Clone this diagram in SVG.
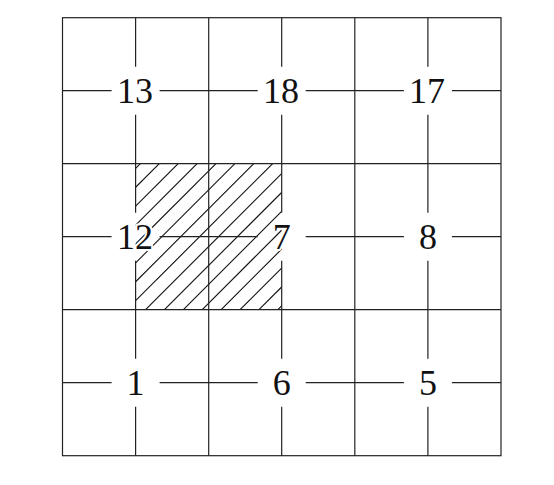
<svg xmlns="http://www.w3.org/2000/svg" width="554" height="485" viewBox="0 0 554 485">
  <style>
    .grid { stroke: #222; stroke-width: 1.2; fill: none; }
    .hatch { stroke: #111; stroke-width: 1.1; fill: none; }
    .lbl { font-family: "Liberation Serif", "DejaVu Serif", serif; font-size: 36px; fill: #111; text-anchor: middle; stroke: #fff; stroke-width: 4; paint-order: stroke; stroke-linejoin: round; }
  </style>
  <defs>
    <clipPath id="hclip">
      <rect x="135.6" y="163.7" width="146.1" height="146"/>
    </clipPath>
  </defs>
  <rect width="554" height="485" fill="#fff"/>
  <g id="hatch" class="hatch" clip-path="url(#hclip)">
    <line x1="154" y1="150" x2="-16" y2="320"/>
    <line x1="172.9" y1="150" x2="2.9" y2="320"/>
    <line x1="191.8" y1="150" x2="21.8" y2="320"/>
    <line x1="210.7" y1="150" x2="40.7" y2="320"/>
    <line x1="229.6" y1="150" x2="59.6" y2="320"/>
    <line x1="248.5" y1="150" x2="78.5" y2="320"/>
    <line x1="267.4" y1="150" x2="97.4" y2="320"/>
    <line x1="286.3" y1="150" x2="116.3" y2="320"/>
    <line x1="305.2" y1="150" x2="135.2" y2="320"/>
    <line x1="324.1" y1="150" x2="154.1" y2="320"/>
    <line x1="343" y1="150" x2="173" y2="320"/>
    <line x1="361.9" y1="150" x2="191.9" y2="320"/>
    <line x1="380.8" y1="150" x2="210.8" y2="320"/>
    <line x1="399.7" y1="150" x2="229.7" y2="320"/>
    <line x1="418.6" y1="150" x2="248.6" y2="320"/>
    <line x1="437.5" y1="150" x2="267.5" y2="320"/>
  </g>
  <g id="connectors" class="grid">
    <rect x="62.5" y="17.7" width="438.5" height="438"/>
    <line x1="208.7" y1="17.7" x2="208.7" y2="455.7"/>
    <line x1="354.8" y1="17.7" x2="354.8" y2="455.7"/>
    <line x1="62.5" y1="163.7" x2="501" y2="163.7"/>
    <line x1="62.5" y1="309.7" x2="501" y2="309.7"/>
    <path d="M135.6 17.7V66.7M135.6 114.7V212.7M135.6 260.7V358.7M135.6 406.7V455.7"/>
    <path d="M281.7 17.7V66.7M281.7 114.7V212.7M281.7 260.7V358.7M281.7 406.7V455.7"/>
    <path d="M427.9 17.7V66.7M427.9 114.7V212.7M427.9 260.7V358.7M427.9 406.7V455.7"/>
    <path d="M62.5 90.7H111.6M159.6 90.7H257.7M305.7 90.7H403.9M451.9 90.7H501"/>
    <path d="M62.5 236.7H111.6M159.6 236.7H257.7M305.7 236.7H403.9M451.9 236.7H501"/>
    <path d="M62.5 382.7H111.6M159.6 382.7H257.7M305.7 382.7H403.9M451.9 382.7H501"/>
  </g>
  <g id="n13"><text class="lbl" x="135" y="103">13</text></g>
  <g id="n18"><text class="lbl" x="281" y="103">18</text></g>
  <g id="n17"><text class="lbl" x="427" y="103">17</text></g>
  <g id="n12"><text class="lbl" x="135" y="248.8">12</text></g>
  <g id="n7"><text class="lbl" x="281.7" y="248.8">7</text></g>
  <g id="n8"><text class="lbl" x="427.9" y="248.8">8</text></g>
  <g id="n1"><text class="lbl" x="135.6" y="394.8">1</text></g>
  <g id="n6"><text class="lbl" x="281.7" y="394.8">6</text></g>
  <g id="n5"><text class="lbl" x="427.9" y="394.8">5</text></g>
</svg>
